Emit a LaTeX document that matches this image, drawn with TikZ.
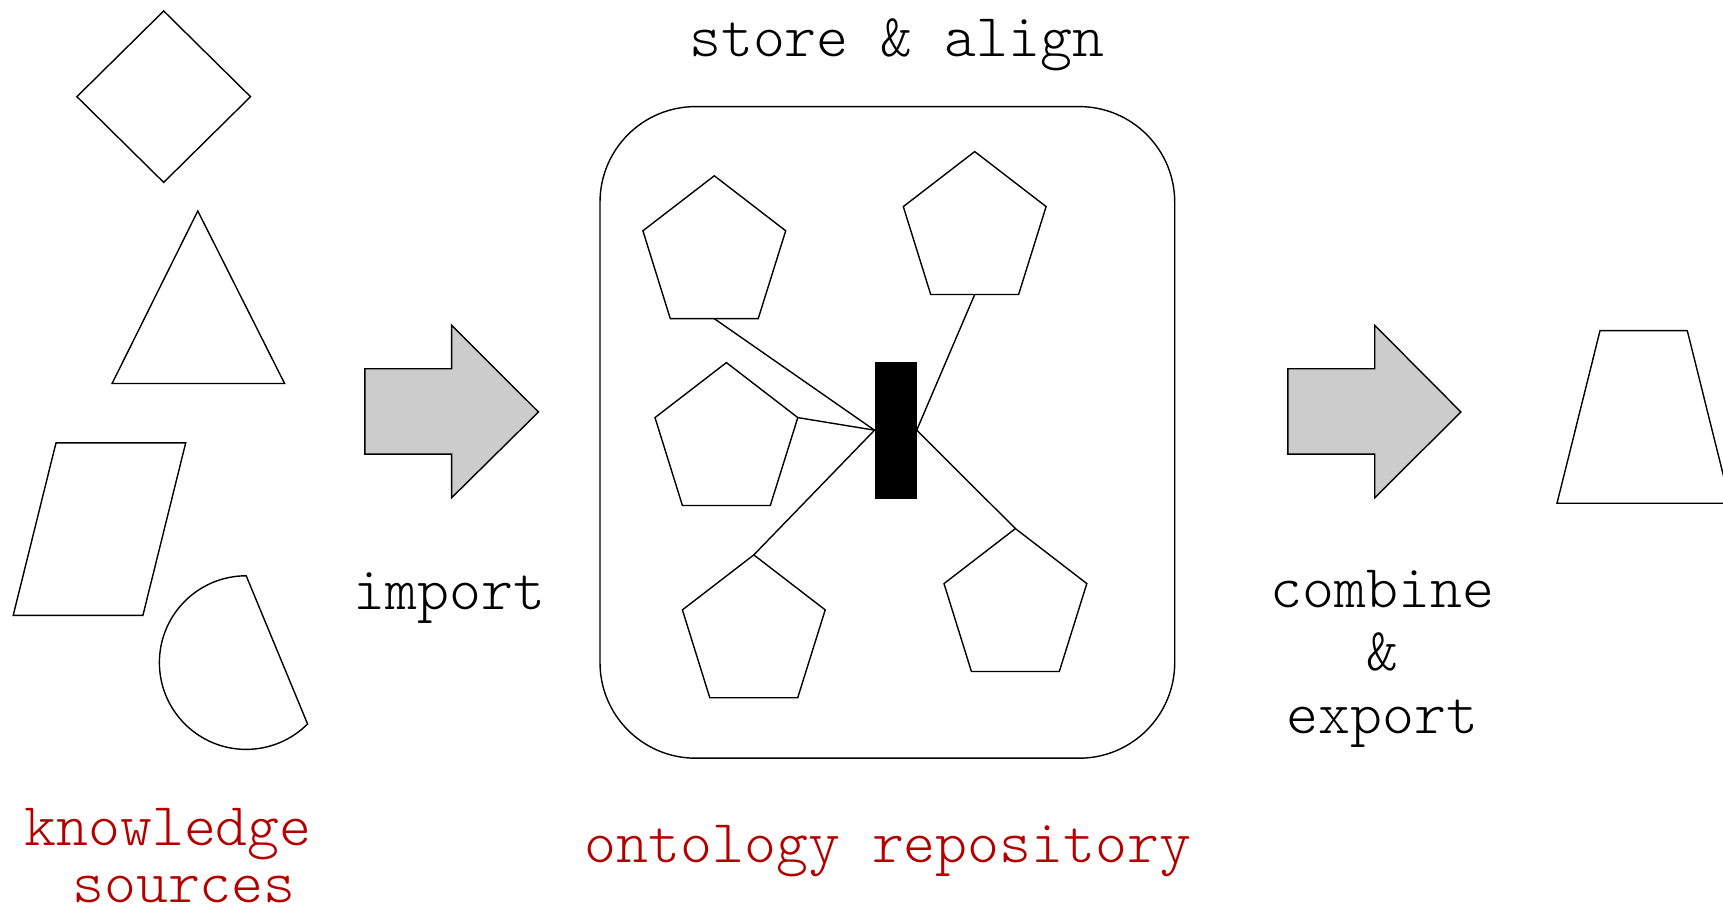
\documentclass[tikz,border=0pt]{standalone}
\usepackage{fontspec}
\setmonofont{Latin Modern Mono Light}
\definecolor{krred}{RGB}{178,0,0}
\definecolor{arrowgray}{RGB}{204,204,204}
\newcommand\pentagonat[2]{%
  \coordinate (#1t) at #2;
  \draw[outl] (#1t) -- ++(-71.4,-55) coordinate (#1ul)
    -- ++(27.4,-87.9) coordinate (#1ll)
    -- ++(87.9,0) coordinate (#1lr)
    -- ++(27.5,87.9) coordinate (#1ur) -- cycle;
  \coordinate (#1b) at ([yshift=-142.9pt]#1t);
}
\begin{document}
\begin{tikzpicture}[x=1pt,y=1pt,
  outl/.style={draw=black, line width=1.4pt, line join=miter},
  bigarrow/.style={outl, fill=arrowgray},
  conn/.style={draw=black, line width=1.4pt},
  lbl/.style={font=\fontsize{60.8}{70}\selectfont\ttfamily, inner sep=0pt, anchor=base},
  lblred/.style={lbl, text=krred}]
\useasboundingbox (0,0) rectangle (1723,912);

% knowledge sources
\draw[outl] (163.7,901) -- (250.5,815.3) -- (163.7,729.6) -- (76.9,815.3) -- cycle;
\draw[outl] (197.8,701) -- (284.6,528.5) -- (112.1,528.5) -- cycle;
\draw[outl] (56,469.1) -- (185.7,469.1) -- (142.9,296.6) -- (13.2,296.6) -- cycle;
\draw[outl] (246.2,336.2) arc[start angle=90, end angle=315, radius=86.8] -- cycle;

% import arrow
\draw[bigarrow] (364.8,543.2) -- (451.6,543.2) -- (451.6,586.7) -- (538.5,500)
  -- (451.6,414.2) -- (451.6,457.8) -- (364.8,457.8) -- cycle;

% repository
\draw[outl, rounded corners=95.6pt] (600,153.8) rectangle (1174.7,805.4);
\pentagonat{pa}{(714.3,736.2)}
\pentagonat{pb}{(974.7,760.4)}
\pentagonat{pc}{(726.4,549.4)}
\pentagonat{pd}{(753.8,357.1)}
\pentagonat{pe}{(1015.4,383.4)}
\node[fill=black, draw=black, minimum width=41.8pt, minimum height=135.2pt, inner sep=0pt] (bar) at (895.6,481.8) {};
\draw[conn] (pab) -- (bar.west);
\draw[conn] (pcur) -- (bar.west);
\draw[conn] (pdt) -- (bar.west);
\draw[conn] (pbb) -- (bar.east);
\draw[conn] (pet) -- (bar.east);

% combine arrow
\draw[bigarrow] (1287.9,543.2) -- (1374.7,543.2) -- (1374.7,586.7) -- (1460.9,500)
  -- (1374.7,414.2) -- (1374.7,457.8) -- (1287.9,457.8) -- cycle;

% output
\draw[outl] (1600,581.3) -- (1687.3,581.3) -- (1730.3,408.7) -- (1557,408.7) -- cycle;

% labels
\node[lbl] (store) at (896.7,855) {store \& align};
\node[lbl] (imp) at (449.5,302) {import};
\node[lbl] (comb) at (1382.4,304.3) {combine};
\node[lbl] (amp) at (1382.4,241.7) {\&};
\node[lbl] (exp) at (1382.4,178) {export};
\node[lblred] (know) at (168.1,66.5) {knowledge};
\node[lblred] (src) at (184,9) {sources};
\node[lblred] (onto) at (888,49.4) {ontology repository};
\end{tikzpicture}
\end{document}
